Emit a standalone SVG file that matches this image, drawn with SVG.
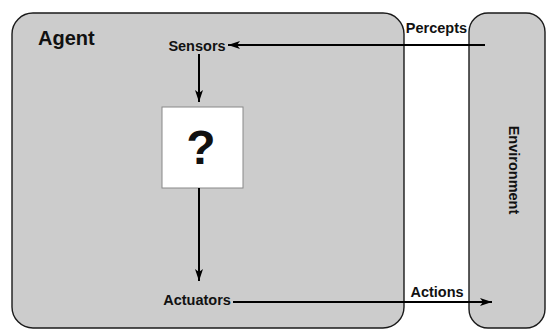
<svg xmlns="http://www.w3.org/2000/svg" width="547" height="335" viewBox="0 0 547 335">
<style>
.box{fill:#cccccc;stroke:#1a1a1a;stroke-width:1.4}
.lbl{font-family:"Liberation Sans",Arial,sans-serif;font-weight:bold;fill:#111}
.conn{stroke:#000;stroke-width:2;fill:none}
</style>
<defs>
<marker id="ah" markerWidth="12" markerHeight="8" refX="12" refY="4" orient="auto" markerUnits="userSpaceOnUse">
<path d="M0,0 L12,4 L0,8 L3,4 Z" fill="#000"/>
</marker>
</defs>
<rect width="547" height="335" fill="#fff"/>
<g id="agent">
<rect class="box" x="12" y="13" width="392" height="315" rx="21" ry="21"/>
<text class="lbl" x="38" y="45" font-size="20">Agent</text>
</g>
<g id="environment">
<rect class="box" x="469" y="13" width="76" height="315" rx="19" ry="19"/>
<text class="lbl" x="514" y="170" font-size="14.5" text-anchor="middle" transform="rotate(90 514 170)" dominant-baseline="central">Environment</text>
</g>
<g id="sensors">
<text class="lbl" x="197" y="51" font-size="14.5" text-anchor="middle">Sensors</text>
</g>
<g id="agent-function">
<rect x="162" y="107" width="81" height="81" fill="#fff" stroke="#888" stroke-width="1"/>
<text class="lbl" x="201" y="164" font-size="48" text-anchor="middle">?</text>
</g>
<g id="actuators">
<text class="lbl" x="197" y="305" font-size="14.5" text-anchor="middle">Actuators</text>
</g>
<g id="connectors">
<line class="conn" x1="485" y1="45" x2="228" y2="45" marker-end="url(#ah)"/>
<line class="conn" x1="199" y1="54" x2="199" y2="102" marker-end="url(#ah)"/>
<line class="conn" x1="199" y1="188" x2="199" y2="281" marker-end="url(#ah)"/>
<line class="conn" x1="233" y1="302" x2="492" y2="302" marker-end="url(#ah)"/>
<text class="lbl" x="436.5" y="33" font-size="14.5" text-anchor="middle">Percepts</text>
<text class="lbl" x="437" y="297" font-size="14.5" text-anchor="middle">Actions</text>
</g>
</svg>
